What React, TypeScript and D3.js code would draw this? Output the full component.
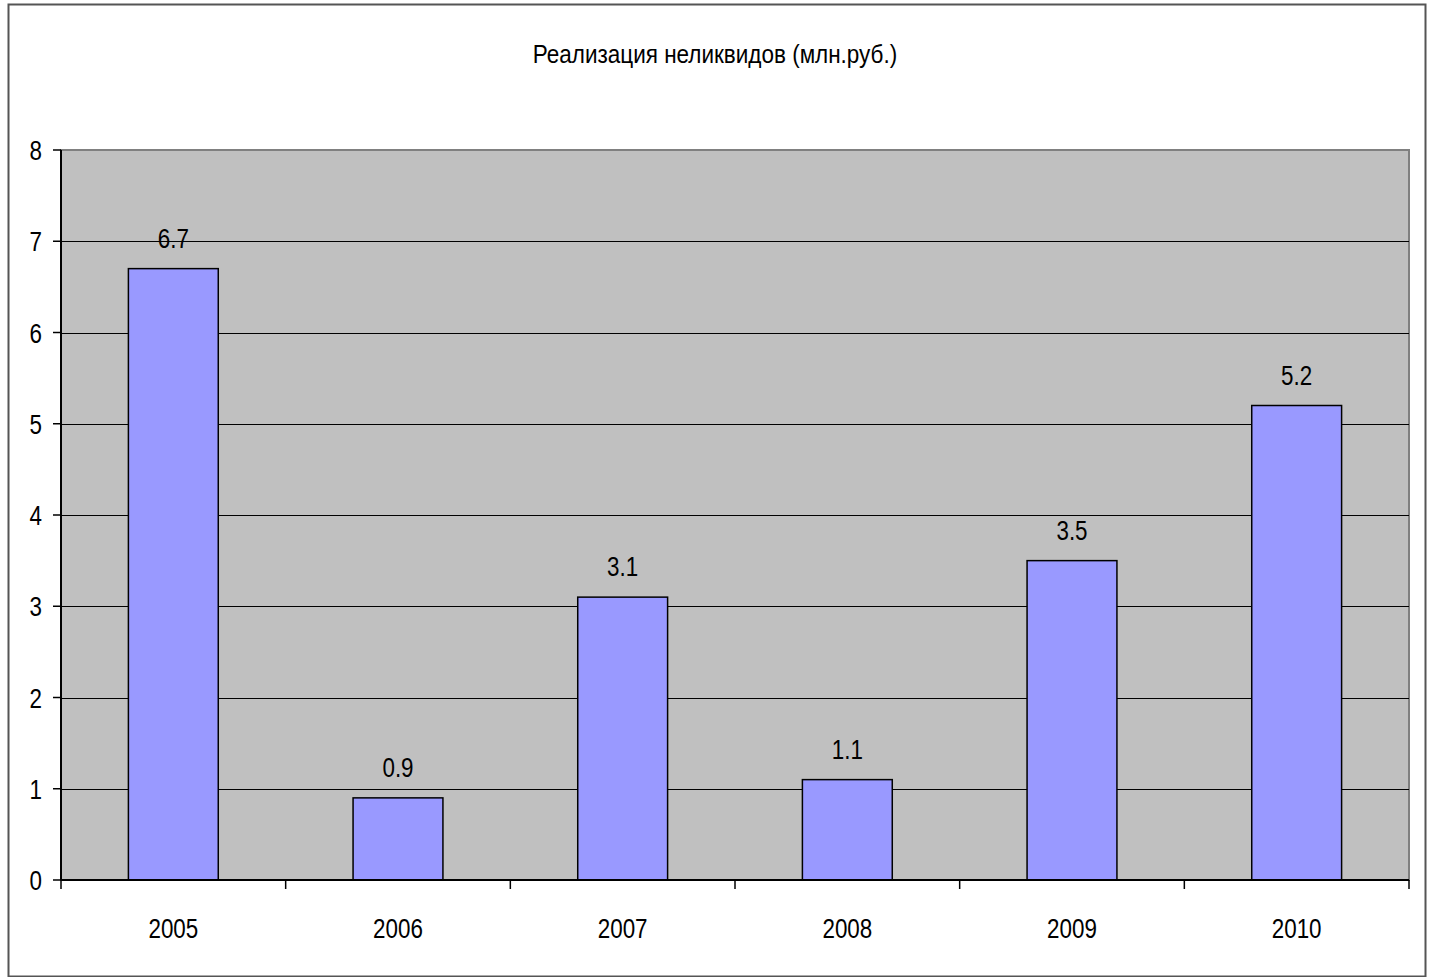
import { useEffect, useRef } from "react";
import * as d3 from "d3";

const years = ["2005", "2006", "2007", "2008", "2009", "2010"];
const values = [6.7, 0.9, 3.1, 1.1, 3.5, 5.2];
const yTicks = [0, 1, 2, 3, 4, 5, 6, 7, 8];
const title = "Реализация неликвидов (млн.руб.)";

const W = 1430;
const H = 977;
const plot = { left: 61, right: 1409, top: 150, bottom: 880 };
const font = "'Liberation Sans', Arial, sans-serif";
const squeeze = 0.8; // source font is a narrow Arial

const App = () => {
  const svgRef = useRef<SVGSVGElement>(null);

  useEffect(() => {
    const svg = d3.select(svgRef.current);
    svg.selectAll("*").remove();

    // outer chart frame
    svg.append("rect")
      .attr("x", 8.5).attr("y", 4.5)
      .attr("width", 1417).attr("height", 972)
      .attr("fill", "#fff")
      .attr("stroke", "#555").attr("stroke-width", 2);

    svg.append("text")
      .attr("transform", `translate(715,63) scale(0.9,1)`)
      .attr("text-anchor", "middle")
      .attr("font-family", font)
      .attr("font-size", 25)
      .attr("fill", "#000")
      .text(title);

    const x = d3.scaleBand()
      .domain(years)
      .range([plot.left, plot.right])
      .paddingInner(0.6)
      .paddingOuter(0.3);

    const y = d3.scaleLinear()
      .domain([0, 8])
      .range([plot.bottom, plot.top]);

    // plot area
    svg.append("rect")
      .attr("x", plot.left).attr("y", plot.top)
      .attr("width", plot.right - plot.left)
      .attr("height", plot.bottom - plot.top)
      .attr("fill", "#c0c0c0")
      .attr("stroke", "#808080").attr("stroke-width", 2);

    // gridlines
    svg.append("g")
      .selectAll("line")
      .data(yTicks.filter(t => t > 0 && t < 8))
      .join("line")
      .attr("x1", plot.left).attr("x2", plot.right)
      .attr("y1", d => Math.round(y(d)) + 0.5)
      .attr("y2", d => Math.round(y(d)) + 0.5)
      .attr("stroke", "#000").attr("stroke-width", 1.2);

    // bars
    svg.append("g")
      .selectAll("rect")
      .data(values)
      .join("rect")
      .attr("x", (d, i) => x(years[i])!)
      .attr("y", d => y(d))
      .attr("width", x.bandwidth())
      .attr("height", d => y(0) - y(d))
      .attr("fill", "#9999ff")
      .attr("stroke", "#000").attr("stroke-width", 1.5);

    // value labels
    svg.append("g")
      .selectAll("text")
      .data(values)
      .join("text")
      .attr("transform", (d, i) =>
        `translate(${x(years[i])! + x.bandwidth() / 2},${y(d) - 21}) scale(${squeeze},1)`)
      .attr("text-anchor", "middle")
      .attr("font-family", font)
      .attr("font-size", 28)
      .text(d => d.toFixed(1));

    // y axis
    const yAxis = svg.append("g");
    yAxis.append("line")
      .attr("x1", plot.left).attr("x2", plot.left)
      .attr("y1", plot.top).attr("y2", plot.bottom)
      .attr("stroke", "#000").attr("stroke-width", 2);
    yAxis.selectAll("line.tk")
      .data(yTicks)
      .join("line")
      .attr("class", "tk")
      .attr("x1", plot.left - 8).attr("x2", plot.left)
      .attr("y1", d => y(d)).attr("y2", d => y(d))
      .attr("stroke", "#000").attr("stroke-width", 1.5);
    yAxis.selectAll("text")
      .data(yTicks)
      .join("text")
      .attr("transform", d => `translate(${plot.left - 19},${y(d) + 10}) scale(${squeeze},1)`)
      .attr("text-anchor", "end")
      .attr("font-family", font)
      .attr("font-size", 28)
      .text(d => d3.format("d")(d));

    // x axis: ticks at category boundaries
    const xAxis = svg.append("g")
      .attr("transform", `translate(0,${plot.bottom})`);
    xAxis.append("line")
      .attr("x1", plot.left).attr("x2", plot.right)
      .attr("stroke", "#000").attr("stroke-width", 2);
    const step = x.step();
    const bounds = d3.range(years.length + 1).map(i => plot.left + i * step);
    xAxis.selectAll("line.tk")
      .data(bounds)
      .join("line")
      .attr("class", "tk")
      .attr("x1", d => d).attr("x2", d => d)
      .attr("y1", 0).attr("y2", 9)
      .attr("stroke", "#000").attr("stroke-width", 1.5);
    xAxis.selectAll("text")
      .data(years)
      .join("text")
      .attr("transform", d => `translate(${x(d)! + x.bandwidth() / 2},58) scale(${squeeze},1)`)
      .attr("text-anchor", "middle")
      .attr("font-family", font)
      .attr("font-size", 28)
      .text(d => d);
  }, []);

  return (
    <svg ref={svgRef} width={W} height={H}
      style={{ position: "absolute", left: 0, top: 0, background: "#fff" }} />
  );
};

export default App;
